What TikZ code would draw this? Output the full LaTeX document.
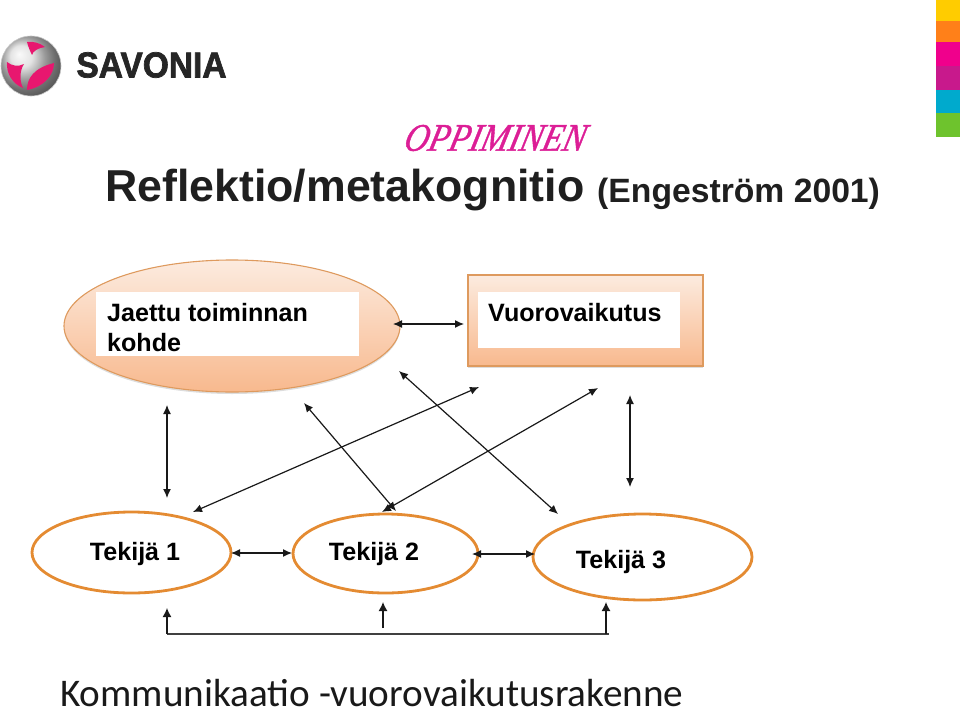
\documentclass[tikz,border=0pt]{standalone}
\usepackage{fontspec}
\setmainfont{Liberation Sans}
\newfontfamily\serifit[FakeBold=1.2]{Liberation Serif}
\newfontfamily\logofont[FakeBold=2]{Liberation Sans}
\newfontfamily\carl{Carlito}
\usetikzlibrary{shapes.geometric,arrows.meta,shadows}
\definecolor{edgeor}{HTML}{DE9A5E}
\definecolor{ringor}{HTML}{E48B32}
\definecolor{lightor}{HTML}{FCEBDF}
\definecolor{midor}{HTML}{F8B98E}
\definecolor{pinkl}{HTML}{E8176F}
\definecolor{oppi}{HTML}{DC1E96}
\definecolor{s1}{HTML}{FFCC00}
\definecolor{s2}{HTML}{FF8019}
\definecolor{s3}{HTML}{F0008C}
\definecolor{s4}{HTML}{C8198C}
\definecolor{s5}{HTML}{00AACD}
\definecolor{s6}{HTML}{6EC32D}
\tikzset{
  softshadow/.style={drop shadow={shadow xshift=0pt,shadow yshift=-2pt,opacity=.22,fill=black!60}},
  gradfill/.style={top color=lightor,bottom color=midor,draw=edgeor,line width=1.1pt,softshadow},
  whitebox/.style={fill=white,draw=none,inner sep=0pt,anchor=north west},
  ring/.style={ellipse,draw=ringor,line width=2.8pt,fill=white,inner sep=0pt},
  bodytxt/.style={font=\fontsize{25.1}{30}\selectfont\bfseries,text=black,inner sep=0pt},
  linkarrow/.style={draw=black!90,line width=1.2pt,{Latex[length=9pt,width=8pt]}-{Latex[length=9pt,width=8pt]}},
  uparrow/.style={draw=black!90,line width=1.3pt,-{Latex[length=9pt,width=9pt]}}
}
\begin{document}
\begin{tikzpicture}[x=1pt,y=-1pt]
\useasboundingbox (0,0) rectangle (960,709);
% colour strip
\fill[s1] (936,0) rectangle (960,21);
\fill[s2] (936,21) rectangle (960,42);
\fill[s3] (936,42) rectangle (960,66);
\fill[s4] (936,66) rectangle (960,90);
\fill[s5] (936,90) rectangle (960,113);
\fill[s6] (936,113) rectangle (960,137);
% logo
\shade[ball color=black!14,draw=black!22,line width=.6pt] (31,66) circle (30);
\fill[pinkl] (27,42) .. controls (33,41) and (40,43) .. (45,47) .. controls (38,48) and (33,51) .. (32,55) .. controls (30,51) and (28,46) .. (27,42) -- cycle;
\fill[pinkl] (7,62) .. controls (12,66) and (18,67) .. (24,64) .. controls (20,70) and (19,80) .. (23,88) .. controls (13,84) and (6,74) .. (7,62) -- cycle;
\fill[pinkl] (27,90) .. controls (27,78) and (34,68) .. (54,63) .. controls (54,75) and (44,87) .. (27,90) -- cycle;
\node[font=\fontsize{36}{40}\selectfont\logofont\bfseries,text=black!85,inner sep=0pt,xscale=.93] (logotxt) at (151.5,65) {SAVONIA};
% titles
\node[font=\fontsize{39}{42}\selectfont\serifit\itshape,text=oppi,inner sep=0pt,xslant=.25,xscale=.86] (oppi) at (496,138) {OPPIMINEN};
\node[font=\fontsize{44.7}{48}\selectfont\bfseries,text=black!88,inner sep=0pt,anchor=base west] (title) at (105,201) {Reflektio/metakognitio};
\node[font=\fontsize{33.7}{36}\selectfont\bfseries,text=black!88,inner sep=0pt,anchor=base west] (yr) at (597,202) {(Engeström 2001)};
% top shapes
\node[ellipse,gradfill,minimum width=336pt,minimum height=132pt,inner sep=0pt] (kohde) at (232,326) {};
\node[whitebox,minimum width=263pt,minimum height=64pt] (kohdebg) at (96,292) {};
\node[bodytxt,anchor=base west] (kohdea) at (107,321) {Jaettu toiminnan};
\node[bodytxt,anchor=base west] (kohdeb) at (107,351) {kohde};
\node[rectangle,gradfill,minimum width=235pt,minimum height=91pt,inner sep=0pt] (vuoro) at (585.5,320.5) {};
\node[whitebox,minimum width=202pt,minimum height=56pt] (vuorobg) at (478,292) {};
\node[bodytxt,anchor=base west] (vuorot) at (488,321) {Vuorovaikutus};
% bottom rings
\node[ring,minimum width=199pt,minimum height=81pt] (t1) at (131.5,552.5) {};
\node[ring,minimum width=185pt,minimum height=79pt] (t2) at (385.5,553.5) {};
\node[ring,minimum width=219pt,minimum height=86pt] (t3) at (642.5,557) {};
\node[bodytxt,anchor=base] (t1t) at (135,560) {Tekijä 1};
\node[bodytxt,anchor=base] (t2t) at (374,560) {Tekijä 2};
\node[bodytxt,anchor=base] (t3t) at (621,568) {Tekijä 3};
% connector end points
\coordinate (a1) at (393,324); \coordinate (a2) at (464,324);
\coordinate (b1) at (167,405); \coordinate (b2) at (167,498);
\coordinate (c1) at (479,387); \coordinate (c2) at (193,512);
\coordinate (d1) at (598,388); \coordinate (d2) at (382,512);
\coordinate (e1) at (304,403); \coordinate (e2) at (396,511);
\coordinate (f1) at (399,371); \coordinate (f2) at (558,514);
\coordinate (g1) at (630,395); \coordinate (g2) at (630,487);
\coordinate (h1) at (231,553); \coordinate (h2) at (292,553);
\coordinate (i1) at (472,554); \coordinate (i2) at (535,554);
\foreach \p/\q in {a1/a2,b1/b2,c1/c2,d1/d2,e1/e2,f1/f2,g1/g2,h1/h2,i1/i2}
  \draw[linkarrow] (\p) -- (\q);
% feedback rail
\coordinate (r1) at (167,634); \coordinate (r1t) at (167,608);
\coordinate (r2) at (383,628); \coordinate (r2t) at (383,602);
\coordinate (r3) at (606,634); \coordinate (r3t) at (606,602);
\coordinate (r4) at (609,634);
\draw[draw=black!75,line width=1.3pt] (r1) -- (r4);
\draw[uparrow] (r1) -- (r1t);
\draw[uparrow] (r2) -- (r2t);
\draw[uparrow] (r3) -- (r3t);
% bottom heading
\node[font=\fontsize{39.2}{42}\selectfont\carl,text=black!90,inner sep=0pt,anchor=base west] (foot) at (60,706) {Kommunikaatio -vuorovaikutusrakenne};
\end{tikzpicture}
\end{document}
